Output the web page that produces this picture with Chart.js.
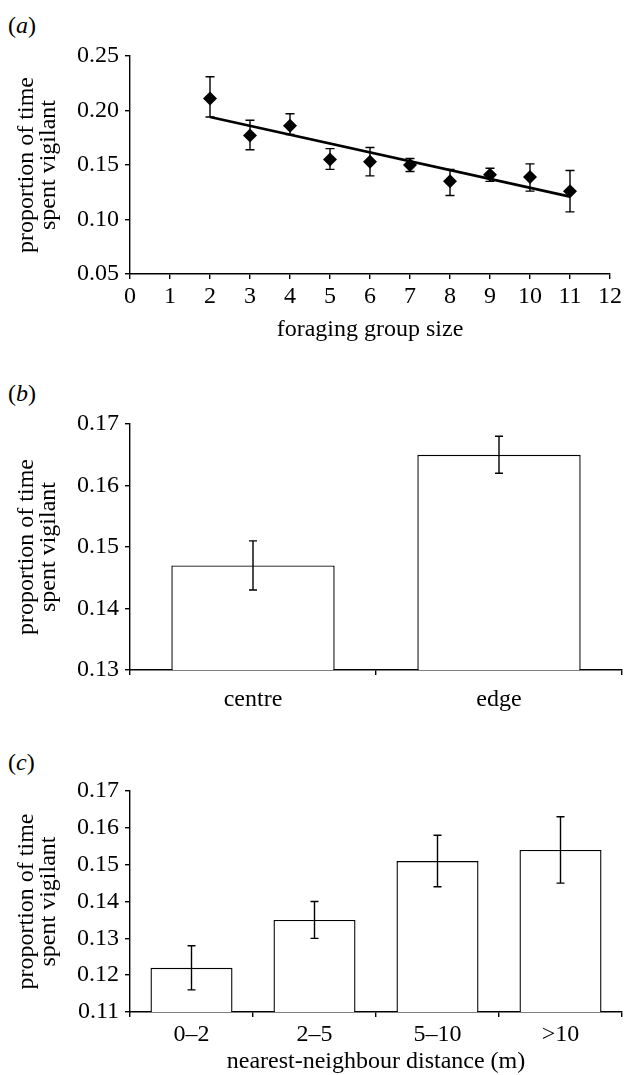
<!DOCTYPE html>
<html>
<head>
<meta charset="utf-8">
<script src="https://cdn.jsdelivr.net/npm/chart.js@4.4.0/dist/chart.umd.min.js"></script>
<style>
  html, body { margin: 0; padding: 0; background: #fff; }
  #page { position: relative; width: 625px; height: 1075px; font-family: "Liberation Serif", "Times New Roman", serif; }
  canvas { position: absolute; left: 0; }
  .tag { position: absolute; left: 8px; font-size: 24px; line-height: 1; color: #000; }
</style>
</head>
<body>
<div id="page">
  <div class="tag" style="top:13px">(<i>a</i>)</div>
  <div class="tag" style="top:381px">(<i>b</i>)</div>
  <div class="tag" style="top:750px">(<i>c</i>)</div>
  <canvas id="chartA" width="625" height="345" style="top:0"></canvas>
  <canvas id="chartB" width="625" height="380" style="top:345px"></canvas>
  <canvas id="chartC" width="625" height="350" style="top:725px"></canvas>
</div>
<script>
// (a) vigilance vs foraging group size
const groupSizes = [2, 3, 4, 5, 6, 7, 8, 9, 10, 11]
const groupMeans = [0.211, 0.177, 0.186, 0.155, 0.153, 0.150, 0.135, 0.141, 0.139, 0.126]
const groupUpper = [0.231, 0.191, 0.197, 0.165, 0.166, 0.156, 0.146, 0.147, 0.151, 0.145]
const groupLower = [0.194, 0.164, 0.178, 0.146, 0.140, 0.144, 0.122, 0.135, 0.126, 0.107]
const fitX = [2, 11]
const fitY = [0.194, 0.121]

// (b) vigilance by position in group
const positionLabels = ["centre", "edge"]
const positionMeans = [0.147, 0.165]
const positionUpper = [0.151, 0.168]
const positionLower = [0.143, 0.162]

// (c) vigilance by nearest-neighbour distance
const distanceLabels = ["0–2", "2–5", "5–10", ">10"]
const distanceMeans = [0.122, 0.135, 0.151, 0.154]
const distanceUpper = [0.128, 0.140, 0.158, 0.163]
const distanceLower = [0.116, 0.130, 0.144, 0.145]

const yTitle = ["proportion of time", "spent vigilant"]
const serif = "'Liberation Serif', 'Times New Roman', serif"

Chart.defaults.font.family = serif
Chart.defaults.font.size = 24
Chart.defaults.color = "#000"

// draws whiskers from the upper/lower arrays through the y scale
const errorBars = {
  id: "errorBars",
  afterDatasetsDraw(chart, args, opts) {
    if (!opts.upper) return
    const ctx = chart.ctx
    const yScale = chart.scales.y
    const meta = chart.getDatasetMeta(0)
    const half = opts.cap / 2
    ctx.save()
    ctx.strokeStyle = "#000"
    ctx.lineWidth = 1.4
    meta.data.forEach((el, i) => {
      const top = yScale.getPixelForValue(opts.upper[i])
      const bottom = yScale.getPixelForValue(opts.lower[i])
      ctx.beginPath()
      ctx.moveTo(el.x, top)
      ctx.lineTo(el.x, bottom)
      ctx.moveTo(el.x - half, top)
      ctx.lineTo(el.x + half, top)
      ctx.moveTo(el.x - half, bottom)
      ctx.lineTo(el.x + half, bottom)
      ctx.stroke()
    })
    ctx.restore()
  },
}

function yAxis(min, max, titlePad) {
  return {
    min: min,
    max: max,
    border: { display: true, color: "#000", width: 1.4 },
    grid: { drawOnChartArea: false, drawTicks: true, tickLength: 5, color: "#000", lineWidth: 1.4 },
    ticks: { stepSize: 0.01, padding: 6, callback: (v) => v.toFixed(2) },
    title: { display: true, text: yTitle, font: { size: 24, lineHeight: 0.93 }, padding: { top: titlePad, bottom: 0 } },
    afterFit: (scale) => { scale.width = 130 },
  }
}

function xAxis(height, tickPad, titleText, titlePad) {
  return {
    border: { display: true, color: "#000", width: 1.4 },
    grid: { drawOnChartArea: false, drawTicks: true, tickLength: 5, color: "#000", lineWidth: 1.4 },
    ticks: { padding: tickPad, maxRotation: 0, autoSkip: false },
    title: { display: !!titleText, text: titleText, font: { size: 24, lineHeight: 1 }, padding: { top: 0, bottom: titlePad } },
    afterFit: (scale) => { scale.height = height },
  }
}

const common = {
  responsive: false,
  animation: false,
  devicePixelRatio: 1,
  plugins: { legend: { display: false }, tooltip: { enabled: false } },
}

// panel (a)
const axA = xAxis(71, 3, "foraging group size", 3.5)
axA.type = "linear"
axA.min = 0
axA.max = 12
axA.ticks.stepSize = 1
const ayA = yAxis(0.05, 0.25, 15.5)
ayA.ticks.stepSize = 0.05

new Chart(document.getElementById("chartA"), {
  type: "scatter",
  data: {
    datasets: [
      {
        data: groupSizes.map((x, i) => ({ x: x, y: groupMeans[i] })),
        pointStyle: "rectRot",
        pointRadius: 7,
        backgroundColor: "#000",
        borderColor: "#000",
        borderWidth: 0,
      },
      {
        data: fitX.map((x, i) => ({ x: x, y: fitY[i] })),
        showLine: true,
        pointRadius: 0,
        borderColor: "#000",
        borderWidth: 2.6,
      },
    ],
  },
  options: {
    ...common,
    layout: { padding: { top: 56, right: 12, left: 0, bottom: 0 } },
    scales: { x: axA, y: ayA },
    plugins: { ...common.plugins, errorBars: { upper: groupUpper, lower: groupLower, cap: 9 } },
  },
  plugins: [errorBars],
})

// panel (b)
new Chart(document.getElementById("chartB"), {
  type: "bar",
  data: {
    labels: positionLabels,
    datasets: [
      {
        data: positionMeans,
        backgroundColor: "#fff",
        borderColor: "#000",
        borderWidth: 1.4,
        barPercentage: 0.664,
        categoryPercentage: 1,
      },
    ],
  },
  options: {
    ...common,
    layout: { padding: { top: 79, right: 3, left: 0, bottom: 0 } },
    scales: { x: xAxis(55, 10, null, 0), y: yAxis(0.13, 0.17, 15.5) },
    plugins: { ...common.plugins, errorBars: { upper: positionUpper, lower: positionLower, cap: 8 } },
  },
  plugins: [errorBars],
})

// panel (c)
new Chart(document.getElementById("chartC"), {
  type: "bar",
  data: {
    labels: distanceLabels,
    datasets: [
      {
        data: distanceMeans,
        backgroundColor: "#fff",
        borderColor: "#000",
        borderWidth: 1.4,
        barPercentage: 0.667,
        categoryPercentage: 1,
      },
    ],
  },
  options: {
    ...common,
    layout: { padding: { top: 66, right: 3, left: 0, bottom: 0 } },
    scales: { x: xAxis(63, 3, "nearest-neighbour distance (m)", 1), y: yAxis(0.11, 0.17, 15.5) },
    plugins: { ...common.plugins, errorBars: { upper: distanceUpper, lower: distanceLower, cap: 8 } },
  },
  plugins: [errorBars],
})
</script>
</body>
</html>
